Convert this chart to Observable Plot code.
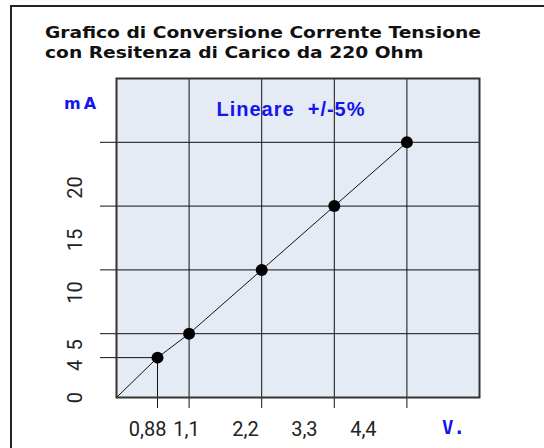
<!DOCTYPE html>
<html>
<head>
<meta charset="utf-8">
<script src="https://cdn.jsdelivr.net/npm/d3@7"></script>
<script src="https://cdn.jsdelivr.net/npm/@observablehq/plot@0.6"></script>
<style>
  html, body { margin: 0; padding: 0; background: #ffffff; }
  #wrap { position: relative; width: 544px; height: 448px; overflow: hidden; background: #ffffff; }
  #border { position: absolute; left: 10px; top: 5px; width: 600px; height: 600px;
            border-left: 2px solid #222; border-top: 2px solid #222; }
  #title { position: absolute; left: 45px; top: 23px; white-space: nowrap;
           font-family: "DejaVu Sans", sans-serif; font-weight: bold; font-size: 15.5px;
           line-height: 20px; color: #111; transform: scaleX(1.205); transform-origin: 0 0; }
  #wrap svg { position: absolute; left: 0; top: 0; }
</style>
</head>
<body>
<div id="wrap">
  <div id="border"></div>
  <div id="title">Grafico di Conversione Corrente Tensione<br>con Resitenza di Carico da 220 Ohm</div>
</div>
<script>
// ---------- data ----------
const voltage = [0.88, 1.1, 2.2, 3.3, 4.4];      // V
const current = [4, 5, 10, 15, 20];              // mA
const xTickValues = [0.88, 1.1, 2.2, 3.3, 4.4];
const xTickLabels = ["0,88", "1,1", "2,2", "3,3", "4,4"];
const yTickValues = [0, 4, 5, 10, 15, 20];
const yTickLabels = ["0", "4", "5", "10", "15", "20"];
const xUnit = "V.";
const yUnit = "mA";
const note = "Lineare\u00a0\u00a0+/-5%";

// ---------- layout ----------
const W = 544, H = 448, ML = 116, MR = 65, MT = 78, MB = 51;
const BLUE = "#1414ee";
// graph-paper scales (non-uniform at the first point, as in the drawing)
const xBreaks = [0, 0.88, 1.1, 5.5];
const xFrac   = [0, 0.113, 0.2, 1];
const yBreaks = [0, 4, 5, 25];
const yFrac   = [0, 0.125, 0.2, 1];

const points = voltage.map((v, i) => ({v, c: current[i]}));
const lineData = [{v: 0, c: 0}, ...points];
const xTicks = xTickValues.map((value, i) => ({value, label: xTickLabels[i]}));
const yTicks = yTickValues.map((value, i) => ({value, label: yTickLabels[i]}));

const main = Plot.plot({
  width: W, height: H,
  marginLeft: ML, marginRight: MR, marginTop: MT, marginBottom: MB,
  style: {background: "transparent", overflow: "visible"},
  x: {type: "linear", domain: xBreaks, range: xFrac.map(f => ML + f * (W - ML - MR)), axis: null},
  y: {type: "linear", domain: yBreaks, range: yFrac.map(f => H - MB - f * (H - MT - MB)), axis: null},
  marks: [
    Plot.frame({fill: "#e5ebf4"}),
    Plot.ruleX(points.slice(1), {x: "v", stroke: "#111", strokeWidth: 1, insetBottom: -11}),
    Plot.ruleY(points.slice(1), {y: "c", stroke: "#111", strokeWidth: 1, insetLeft: -16}),
    Plot.ruleX(points.slice(0, 1), {x: "v", y1: "c", y2: 0, stroke: "#111", strokeWidth: 1, insetBottom: -11}),
    Plot.ruleY(points.slice(0, 1), {y: "c", x1: 0, x2: "v", stroke: "#111", strokeWidth: 1, insetLeft: -16}),
    Plot.line(lineData, {x: "v", y: "c", stroke: "#111", strokeWidth: 1}),
    Plot.dot(points, {x: "v", y: "c", r: 6, fill: "#000", stroke: null}),
    Plot.frame({stroke: "#333", strokeWidth: 2})
  ]
});

// label layer: tick labels set along their own linear label axis
const T = {textAnchor: "middle", lineAnchor: "middle"};
const tickFont = {fontSize: 20, fontFamily: "Roboto", fill: "#222"};
const labels = Plot.plot({
  width: W, height: H,
  marginLeft: ML, marginRight: MR, marginTop: MT, marginBottom: MB,
  style: {background: "transparent", overflow: "visible"},
  x: {domain: [-0.205, 6.567], axis: null},
  y: {domain: [0, 30.38], axis: null},
  marks: [
    Plot.text(xTicks.slice(1), {x: "value", text: "label", frameAnchor: "bottom", dy: 32, ...T, ...tickFont}),
    Plot.text(xTicks.slice(0, 1), {x: "value", text: "label", frameAnchor: "bottom", dy: 32, dx: -27, ...T, ...tickFont}),
    Plot.text(yTicks.filter(d => d.value !== 4), {y: "value", text: "label", frameAnchor: "left", dx: -41,
      rotate: -90, ...T, ...tickFont}),
    Plot.text(yTicks.filter(d => d.value === 4), {y: "value", text: "label", frameAnchor: "left", dx: -41, dy: 10,
      rotate: -90, ...T, ...tickFont}),
    Plot.text([yUnit], {frameAnchor: "top-left", dx: -35, dy: 25, ...T, fontSize: 16, fontWeight: "bold",
      fontFamily: "DejaVu Sans", fill: BLUE}),
    Plot.text([note], {frameAnchor: "top", dx: -7, dy: 31.5, ...T, fontSize: 20, fontWeight: "bold",
      fontFamily: "Liberation Sans", fill: BLUE}),
    Plot.text([xUnit], {frameAnchor: "bottom-right", dx: -26, dy: 30, ...T, fontSize: 19, fontWeight: "bold",
      fontFamily: "DejaVu Sans Mono", fill: BLUE})
  ]
});

d3.select(labels).selectAll("text").each(function () {
  if (this.textContent === yUnit) this.style.letterSpacing = "3px";
  if (this.textContent === note) this.style.letterSpacing = "1px";
});

const wrap = document.getElementById("wrap");
wrap.appendChild(main);
wrap.appendChild(labels);
</script>
</body>
</html>
